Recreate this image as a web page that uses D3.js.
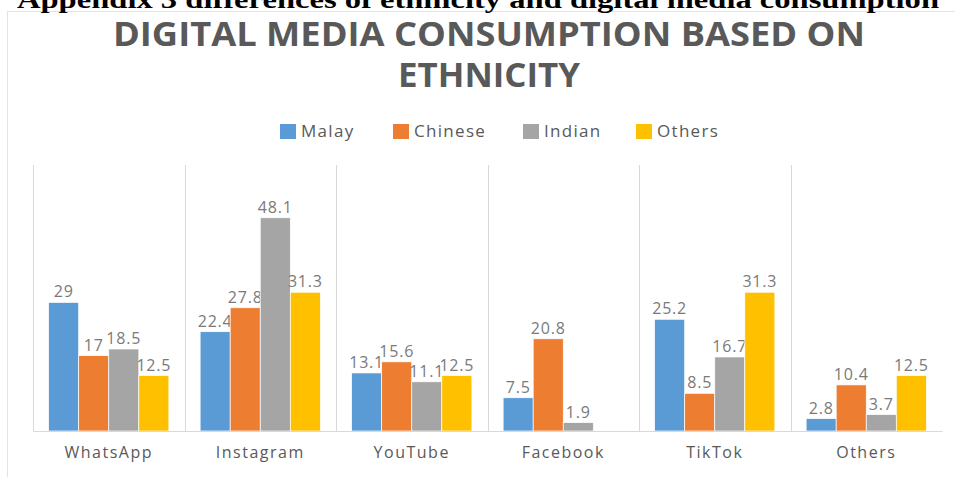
<!DOCTYPE html>
<html>
<head>
<meta charset="utf-8">
<script src="https://cdn.jsdelivr.net/npm/d3@7"></script>
<style>
  body { margin: 0; background: #fff; }
  svg { display: block; }
</style>
</head>
<body>
<div id="chart"></div>
<script>
var platforms = ["WhatsApp", "Instagram", "YouTube", "Facebook", "TikTok", "Others"];
var ethnicities = ["Malay", "Chinese", "Indian", "Others"];
var malay = [29, 22.4, 13.1, 7.5, 25.2, 2.8];
var chinese = [17, 27.8, 15.6, 20.8, 8.5, 10.4];
var indian = [18.5, 48.1, 11.1, 1.9, 16.7, 3.7];
var others = [12.5, 31.3, 12.5, null, 31.3, 12.5];
var colors = ["#5B9BD5", "#ED7D31", "#A5A5A5", "#FFC000"];

var seriesValues = [malay, chinese, indian, others];

var width = 955, height = 478;
var margin = { left: 33, right: 13, top: 165, bottom: 47 };

var svg = d3.select("#chart").append("svg")
  .attr("width", width)
  .attr("height", height);

// outer frame of the chart object
svg.append("line")
  .attr("x1", 7).attr("x2", width)
  .attr("y1", 11.5).attr("y2", 11.5)
  .attr("stroke", "#e3e3e3");
svg.append("line")
  .attr("x1", 7.5).attr("x2", 7.5)
  .attr("y1", 11).attr("y2", 477)
  .attr("stroke", "#e3e3e3");

// appendix heading (cut at the top)
svg.append("text")
  .attr("x", 478).attr("y", 8)
  .attr("text-anchor", "middle")
  .attr("textLength", 922)
  .attr("lengthAdjust", "spacingAndGlyphs")
  .style("font-family", "'Liberation Serif', 'Times New Roman', serif")
  .style("font-weight", "bold")
  .style("font-size", "26px")
  .attr("fill", "#000")
  .text("Appendix 3 differences of ethnicity and digital media consumption");

// chart title
var title = svg.append("g")
  .style("font-family", "'Open Sans', 'Liberation Sans', sans-serif")
  .style("font-weight", "bold")
  .attr("fill", "#595959");
title.append("text")
  .attr("x", 489).attr("y", 45.5)
  .attr("text-anchor", "middle")
  .attr("textLength", 752)
  .attr("lengthAdjust", "spacingAndGlyphs")
  .style("font-size", "34px")
  .text("DIGITAL MEDIA CONSUMPTION BASED ON");
title.append("text")
  .attr("x", 489).attr("y", 87)
  .attr("text-anchor", "middle")
  .attr("textLength", 182)
  .attr("lengthAdjust", "spacingAndGlyphs")
  .style("font-size", "34px")
  .text("ETHNICITY");

// legend
var legendX = [280, 393, 523, 636];
var legend = svg.selectAll(".legend")
  .data(ethnicities)
  .enter()
  .append("g")
  .attr("class", "legend")
  .attr("transform", function(d, i) { return "translate(" + legendX[i] + ",124)"; });
legend.append("rect")
  .attr("width", 16).attr("height", 15)
  .attr("fill", function(d, i) { return colors[i]; });
legend.append("text")
  .attr("x", 21).attr("y", 13)
  .style("font-family", "'Open Sans', sans-serif")
  .style("font-size", "17px")
  .style("letter-spacing", "1.3px")
  .attr("fill", "#595959")
  .text(function(d) { return d; });

// scales
var x0 = d3.scaleBand()
  .domain(platforms)
  .range([margin.left, width - margin.right])
  .paddingInner(0)
  .paddingOuter(0);

var x1 = d3.scaleBand()
  .domain(ethnicities)
  .range([0, x0.bandwidth()])
  .paddingInner(0)
  .paddingOuter(0.52);

var y = d3.scaleLinear()
  .domain([0, 60])
  .range([height - margin.bottom, margin.top]);

// vertical separators between categories
var bounds = platforms.map(function(p) { return x0(p); });
svg.selectAll(".sep")
  .data(bounds)
  .enter()
  .append("line")
  .attr("class", "sep")
  .attr("x1", function(d) { return Math.round(d) + 0.5; })
  .attr("x2", function(d) { return Math.round(d) + 0.5; })
  .attr("y1", y(60))
  .attr("y2", y(0))
  .attr("stroke", "#d9d9d9");

// bars
var groups = svg.selectAll(".group")
  .data(platforms)
  .enter()
  .append("g")
  .attr("class", "group")
  .attr("transform", function(d) { return "translate(" + x0(d) + ",0)"; });

var cells = groups.selectAll(".cell")
  .data(function(d, i) {
    return ethnicities.map(function(e, j) { return { eth: e, idx: j, value: seriesValues[j][i] }; });
  })
  .enter()
  .append("g")
  .attr("class", "cell");

cells.filter(function(d) { return d.value != null; })
  .append("rect")
  .attr("x", function(d) { return x1(d.eth); })
  .attr("width", x1.bandwidth())
  .attr("y", function(d) { return y(d.value); })
  .attr("height", function(d) { return y(0) - y(d.value); })
  .attr("fill", function(d) { return colors[d.idx]; })
  .attr("stroke", "#fff")
  .attr("stroke-width", 0.7);

cells.filter(function(d) { return d.value != null; })
  .append("text")
  .attr("x", function(d) { return x1(d.eth) + x1.bandwidth() / 2; })
  .attr("y", function(d) { return y(d.value) - 5; })
  .attr("text-anchor", "middle")
  .style("font-family", "'Open Sans', sans-serif")
  .style("font-size", "16px")
  .style("letter-spacing", "0.8px")
  .attr("fill", "#7a7a7a")
  .text(function(d) { return d.value; });

// baseline + category axis
var xAxis = svg.append("g")
  .attr("transform", "translate(0," + y(0) + ")")
  .call(d3.axisBottom(x0).tickSize(0).tickPadding(16));
xAxis.select(".domain").attr("stroke", "#d9d9d9");
xAxis.selectAll("text")
  .style("font-family", "'Open Sans', sans-serif")
  .style("font-size", "16px")
  .style("letter-spacing", "1.5px")
  .attr("fill", "#595959");
</script>
</body>
</html>
